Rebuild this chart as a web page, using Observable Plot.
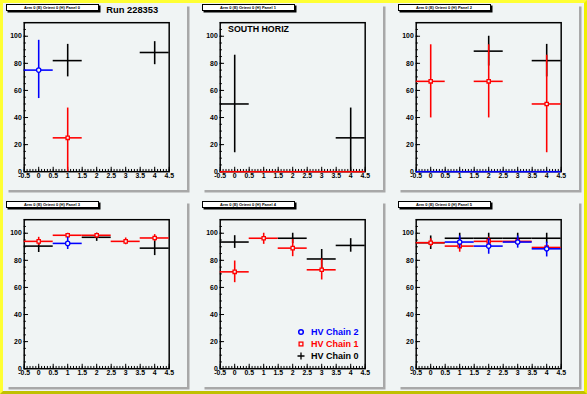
<!DOCTYPE html>
<html><head><meta charset="utf-8">
<script src="https://cdn.jsdelivr.net/npm/d3@7"></script>
<script src="https://cdn.jsdelivr.net/npm/@observablehq/plot@0.6"></script>
<style>
html,body{margin:0;padding:0;background:#f0f4f4;}
#canvas{position:relative;width:587px;height:394px;background:#f0f4f4;overflow:hidden;font-family:"Liberation Sans",Arial,sans-serif;}
#border{position:absolute;left:0;top:0;width:587px;height:394px;box-sizing:border-box;border-style:solid;border-width:3px;border-color:#ffff33 #f0f000 #c0c000 #ffff33;pointer-events:none;z-index:10;}
.pad{position:absolute;width:181px;height:186px;background:#f0f4f4;box-shadow:2.5px 2.5px 0 #a8a8a8;}
.pad svg{position:absolute;left:0;top:0;overflow:visible;}
.ptitle{position:absolute;left:0;top:0;width:91px;height:5px;background:#fff;border:1px solid #000;box-shadow:1.5px 1.5px 0 #000;font-size:4px;font-weight:bold;text-align:center;line-height:5px;white-space:nowrap;overflow:hidden;z-index:5;}
.legend{position:absolute;font-weight:bold;font-size:9px;z-index:5;}
.legend div{position:absolute;left:0;white-space:nowrap;height:12px;line-height:12px;}
.legend svg{position:absolute;left:-15px;top:1px;}
.legend span{position:absolute;left:0;top:0;}
</style>
</head><body>
<div id="canvas"><div id="border"></div></div>
<script>
// ---------- data ----------
const panelTitles = [
  "Arm 0 (E) Orient 0 (H) Panel 0",
  "Arm 0 (E) Orient 0 (H) Panel 1",
  "Arm 0 (E) Orient 0 (H) Panel 2",
  "Arm 0 (E) Orient 0 (H) Panel 3",
  "Arm 0 (E) Orient 0 (H) Panel 4",
  "Arm 0 (E) Orient 0 (H) Panel 5"
];
const runLabel = "Run 228353";
const panelNotes = ["", "SOUTH HORIZ", "", "", "", ""];
const xTicks = [-0.5, 0, 0.5, 1, 1.5, 2, 2.5, 3, 3.5, 4, 4.5];
const yTicks = [0, 20, 40, 60, 80, 100];
const seriesNames = ["HV Chain 2", "HV Chain 1", "HV Chain 0"];
const seriesColors = ["#0000ff", "#ff0000", "#000000"];

// rows: [panel, bin, value, errLow, errHigh]
const chain0 = [
  [0, 1, 82, 12, 12], [0, 4, 88, 9, 8],
  [1, 0, 50, 36, 36], [1, 4, 25, 25, 22],
  [2, 2, 89, 11, 11], [2, 4, 82, 12, 12],
  [3, 0, 90.5, 4.7, 4.5], [3, 2, 97, 3, 3], [3, 4, 89, 5.5, 5.5],
  [4, 0, 93.5, 4.7, 4.7], [4, 2, 96.3, 4, 3.7], [4, 3, 81, 7, 7], [4, 4, 91, 5, 5],
  [5, 0, 93, 5, 5], [5, 1, 96.3, 4, 3.7], [5, 2, 96.3, 4, 3.7], [5, 3, 96.3, 4, 3.7], [5, 4, 96.3, 4, 3.7]
];
const chain1 = [
  [0, 1, 25, 25, 22],
  [1, 0, 0, 0, 0], [1, 1, 0, 0, 0], [1, 2, 0, 0, 0], [1, 3, 0, 0, 0], [1, 4, 0, 0, 0],
  [2, 0, 66.7, 27, 27], [2, 2, 66.7, 27, 27], [2, 4, 50, 36, 36],
  [3, 0, 94, 3, 3], [3, 1, 98.5, 2, 1.5], [3, 2, 98.5, 2, 1.5], [3, 3, 94, 2.5, 2.5], [3, 4, 96.5, 2.5, 2.5],
  [4, 0, 71.5, 8, 8], [4, 1, 96.3, 4.5, 3.7], [4, 2, 89, 6.3, 6.3], [4, 3, 73, 7.5, 8],
  [5, 0, 93, 3, 3], [5, 1, 90.5, 4.5, 4.5], [5, 2, 94, 3, 3], [5, 3, 94, 2.5, 2.5], [5, 4, 89.5, 2, 2]
];
const chain2 = [
  [0, 0, 75, 21, 22],
  [2, 0, 0, 0, 0], [2, 1, 0, 0, 0], [2, 2, 0, 0, 0], [2, 3, 0, 0, 0], [2, 4, 0, 0, 0],
  [3, 1, 92.5, 4.5, 4.5],
  [5, 1, 93.5, 4.5, 4.5], [5, 2, 90.5, 6, 5.5], [5, 3, 93.5, 4.5, 4.5], [5, 4, 88.5, 6, 5]
];

// ---------- layout ----------
const padX = [5.5, 201.5, 397.5];
const padY = [3.5, 200.5];
const W = 184, H = 189, ML = 18, MR = 18.6, MT = 18.5, MB = 19;
const FW = W - ML - MR, FH = H - MT - MB;
const xMinor = d3.range(-5, 46).map(i => i / 10);
const yMinor = d3.range(0, 111, 5);
const fmt = d => String(d);

const canvas = document.getElementById("canvas");
const toRows = (arr, p) => arr.filter(r => r[0] === p).map(r => ({x: r[1], y: r[2], lo: r[3], hi: r[4]}));

function seriesMarks(rows, color, symbol) {
  const m = [
    Plot.ruleX(rows, {x: "x", y1: d => Math.max(0, d.y - d.lo), y2: d => Math.min(110, d.y + d.hi), stroke: color, strokeWidth: 1.6}),
    Plot.ruleY(rows, {y: "y", x1: d => d.x - 0.5, x2: d => d.x + 0.5, stroke: color, strokeWidth: 1.6})
  ];
  if (symbol) m.push(Plot.dot(rows.filter(d => d.y > 0), {x: "x", y: "y", symbol, r: symbol === "circle" ? 2.2 : 1.9, stroke: color, strokeWidth: 1.3, fill: "#f0f4f4"}));
  return m;
}

for (let p = 0; p < 6; p++) {
  const col = p % 3, row = Math.floor(p / 3);
  const pad = document.createElement("div");
  pad.className = "pad";
  pad.style.left = padX[col] + "px";
  pad.style.top = padY[row] + "px";
  const t = document.createElement("div");
  t.className = "ptitle";
  t.textContent = panelTitles[p];
  pad.appendChild(t);

  const marks = [
    Plot.frame({stroke: "#000", strokeWidth: 1.5}),
    Plot.ruleX(xMinor, {x: d => d, insetTop: FH - 2.3, stroke: "#000", strokeWidth: 1}),
    Plot.ruleX(xTicks, {x: d => d, insetTop: FH - 4.5, stroke: "#000", strokeWidth: 1}),
    Plot.ruleY(yMinor, {y: d => d, insetRight: FW - 2.2, stroke: "#000", strokeWidth: 1}),
    Plot.ruleY(yTicks, {y: d => d, insetRight: FW - 4.4, stroke: "#000", strokeWidth: 1}),
    Plot.axisX(xTicks, {tickSize: 0, tickPadding: 1.5, tickFormat: fmt, label: null, fontSize: 7, fontWeight: "bold"}),
    Plot.axisY(yTicks, {tickSize: 0, tickPadding: 2.5, tickFormat: fmt, label: null, fontSize: 7, fontWeight: "bold"}),
    ...seriesMarks(toRows(chain0, p), seriesColors[2], null),
    ...seriesMarks(toRows(chain1, p), seriesColors[1], "square"),
    ...seriesMarks(toRows(chain2, p), seriesColors[0], "circle")
  ];
  if (panelNotes[p]) marks.push(Plot.text([panelNotes[p]], {frameAnchor: "top-left", dx: 8, dy: 3, lineAnchor: "top", textAnchor: "start", fontSize: 9, fontWeight: "bold", fill: "#000"}));
  if (p === 0) marks.push(Plot.text([runLabel], {frameAnchor: "top-left", dx: 83.5, dy: -10, lineAnchor: "bottom", textAnchor: "start", fontSize: 9.5, fontWeight: "bold", fill: "#000"}));

  const svg = Plot.plot({
    width: W, height: H,
    marginLeft: ML, marginRight: MR, marginTop: MT, marginBottom: MB,
    x: {domain: [-0.5, 4.5]},
    y: {domain: [0, 110]},
    style: {background: "transparent", fontFamily: "'Liberation Sans', Arial, sans-serif", color: "#000"},
    marks
  });
  pad.appendChild(svg);
  canvas.appendChild(pad);
}

// legend (panel 4)
const legend = document.createElement("div");
legend.className = "legend";
legend.style.left = "311px";
legend.style.top = "326px";
const legendMarker = [
  '<circle cx="5" cy="5" r="2.3" fill="none" stroke="#0000ff" stroke-width="1.5"/>',
  '<rect x="3.1" y="3.1" width="3.8" height="3.8" fill="none" stroke="#ff0000" stroke-width="1.3"/>',
  '<path d="M5,1.5V8.5M1.5,5H8.5" stroke="#000" stroke-width="1.3"/>'
];
seriesNames.forEach((name, i) => {
  const r = document.createElement("div");
  r.style.top = (i * 12) + "px";
  r.innerHTML = '<svg width="10" height="10">' + legendMarker[i] + '</svg><span style="color:' + seriesColors[i] + '">' + name + '</span>';
  legend.appendChild(r);
});
canvas.appendChild(legend);
</script>
</body></html>
